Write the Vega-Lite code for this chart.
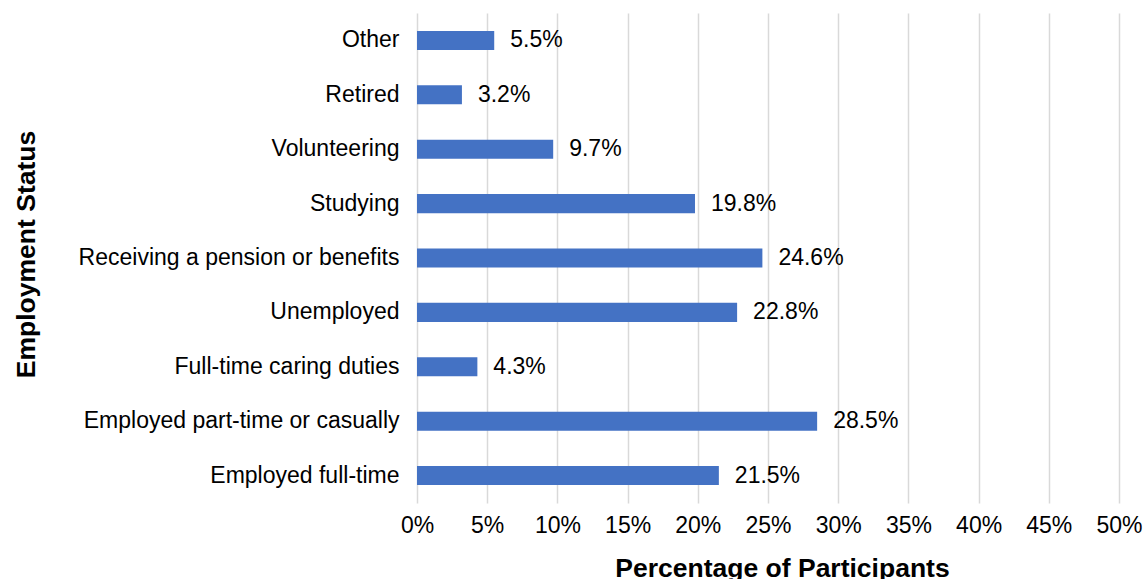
{
  "$schema": "https://vega.github.io/schema/vega-lite/v6.json",
  "width": 702,
  "height": 490,
  "autosize": {"type": "none"},
  "padding": {"left": 417, "top": 13, "right": 28, "bottom": 76},
  "background": "white",
  "config": {
    "view": {"stroke": null},
    "font": "Liberation Sans"
  },
  "data": {
    "values": [
      {"status": "Other", "pct": 5.5},
      {"status": "Retired", "pct": 3.2},
      {"status": "Volunteering", "pct": 9.7},
      {"status": "Studying", "pct": 19.8},
      {"status": "Receiving a pension or benefits", "pct": 24.6},
      {"status": "Unemployed", "pct": 22.8},
      {"status": "Full-time caring duties", "pct": 4.3},
      {"status": "Employed part-time or casually", "pct": 28.5},
      {"status": "Employed full-time", "pct": 21.5}
    ]
  },
  "encoding": {
    "y": {
      "field": "status",
      "type": "nominal",
      "sort": null,
      "scale": {"paddingInner": 0.65, "paddingOuter": 0.33},
      "axis": {
        "title": "Employment Status",
        "titleFontSize": 26.5,
        "titleFontWeight": "bold",
        "titleColor": "#000000",
        "titleX": -383,
        "titleY": 241,
        "titleAngle": -90,
        "titleAlign": "center",
        "titleBaseline": "alphabetic",
        "labelFontSize": 23,
        "labelColor": "#000000",
        "labelPadding": 18,
        "labelLimit": 400,
        "ticks": false,
        "domain": false,
        "grid": false
      }
    },
    "x": {
      "field": "pct",
      "type": "quantitative",
      "scale": {"domain": [0, 50], "nice": false},
      "axis": {
        "title": "Percentage of Participants",
        "titleFontSize": 26.5,
        "titleFontWeight": "bold",
        "titleColor": "#000000",
        "titleX": 365,
        "titleY": 73,
        "titleAlign": "center",
        "titleBaseline": "alphabetic",
        "values": [0, 5, 10, 15, 20, 25, 30, 35, 40, 45, 50],
        "labelExpr": "datum.value + '%'",
        "labelFlush": false,
        "labelOverlap": false,
        "labelFontSize": 23,
        "labelColor": "#000000",
        "labelPadding": 11,
        "ticks": false,
        "domain": false,
        "grid": true,
        "gridColor": "#d9d9d9",
        "gridWidth": 1.5
      }
    }
  },
  "layer": [
    {
      "mark": {"type": "bar", "color": "#4472C4"}
    },
    {
      "mark": {
        "type": "text",
        "align": "left",
        "baseline": "middle",
        "dx": 16,
        "fontSize": 23,
        "color": "#000000",
        "text": {"expr": "format(datum.pct, '.1f') + '%'"}
      }
    }
  ]
}
